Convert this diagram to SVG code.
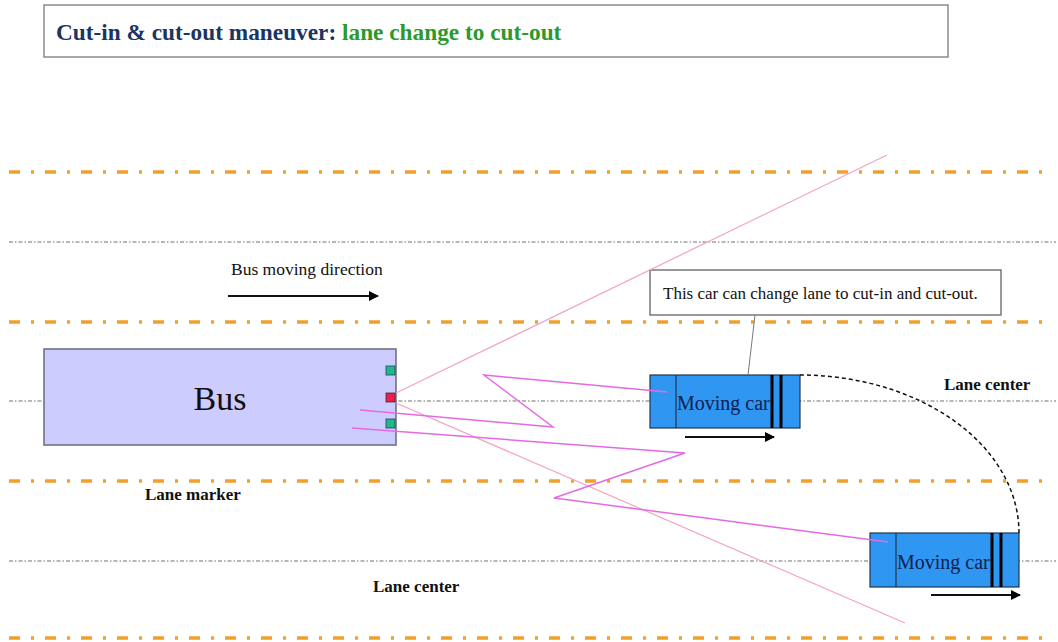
<svg xmlns="http://www.w3.org/2000/svg" width="1058" height="642" viewBox="0 0 1058 642">
  <style>
    .marker-line { stroke: #f2a02a; stroke-width: 3.5; stroke-dasharray: 11 11 3 11; fill: none; }
    .center-line { stroke: #6e6e6e; stroke-width: 1; stroke-dasharray: 4 2 1.5 2; fill: none; }
    .serif { font-family: "Liberation Serif", "Times New Roman", serif; }
    .label { font-family: "Liberation Serif", "Times New Roman", serif; font-weight: bold; font-size: 17px; fill: #111; }
    .car-body { fill: #2f96f2; stroke: #203550; stroke-width: 1.2; }
    .car-text { font-family: "Liberation Serif", "Times New Roman", serif; font-size: 20px; fill: #102050; }
    .bar { stroke: #000; stroke-width: 3; }
    .beam { stroke: #f4a2c4; stroke-width: 1.2; fill: none; }
    .track { stroke: #e46ae4; stroke-width: 1.5; fill: none; }
    .motion { stroke: #111; stroke-width: 1.8; }
    .sensor-g { fill: #1fb88c; stroke: #245; stroke-width: 0.8; }
    .sensor-r { fill: #e8204e; stroke: #523; stroke-width: 0.8; }
  </style>
  <defs>
    <marker id="headBig" viewBox="0 0 10 10" refX="9" refY="5" markerWidth="12" markerHeight="10" markerUnits="userSpaceOnUse" orient="auto">
      <path d="M0,0 L10,5 L0,10 z" fill="#000"/>
    </marker>
  </defs>

  <rect width="1058" height="642" fill="#ffffff"/>

  <!-- title -->
  <g id="title">
    <rect x="44" y="5" width="904" height="52" fill="#fff" stroke="#8a8a8a" stroke-width="1.5"/>
    <text x="56" y="40" class="serif" font-size="23.3" font-weight="bold"><tspan fill="#1b3563">Cut-in &amp; cut-out maneuver: </tspan><tspan fill="#2b9a2b">lane change to cut-out</tspan></text>
  </g>

  <!-- road markings -->
  <g id="road">
    <line class="marker-line" x1="9" y1="172" x2="1052" y2="172"/>
    <line class="marker-line" x1="9" y1="322" x2="1052" y2="322"/>
    <line class="marker-line" x1="9" y1="481" x2="1052" y2="481"/>
    <line class="marker-line" x1="9" y1="638" x2="1052" y2="638"/>
    <line class="center-line" x1="9" y1="242" x2="1056" y2="242"/>
    <line class="center-line" x1="9" y1="401" x2="1056" y2="401"/>
    <line class="center-line" x1="9" y1="561" x2="1056" y2="561"/>
  </g>

  <!-- text labels -->
  <g id="labels">
    <text x="231" y="275" class="serif" font-size="17.5" fill="#111">Bus moving direction</text>
    <text x="944" y="390" class="label">Lane center</text>
    <text x="145" y="500" class="label">Lane marker</text>
    <text x="373" y="592" class="label">Lane center</text>
  </g>

  <!-- bus with sensors -->
  <g id="bus">
    <rect x="44" y="349" width="352" height="96" fill="#ccccff" stroke="#6a6a7a" stroke-width="1.5"/>
    <text x="220" y="410" class="serif" font-size="34" text-anchor="middle" fill="#111">Bus</text>
    <rect class="sensor-g" x="386" y="366" width="9" height="9"/>
    <rect class="sensor-r" x="386" y="393" width="9" height="9"/>
    <rect class="sensor-g" x="386" y="419" width="9" height="9"/>
  </g>

  <!-- moving car in the bus lane -->
  <g id="car1">
    <rect class="car-body" x="650" y="375" width="150" height="53"/>
    <line x1="676" y1="375" x2="676" y2="428" stroke="#203550" stroke-width="1.2"/>
    <text x="677" y="410" class="car-text">Moving car</text>
    <line class="bar" x1="772" y1="375" x2="772" y2="428"/>
    <line class="bar" x1="781" y1="375" x2="781" y2="428"/>
  </g>

  <!-- moving car after the lane change -->
  <g id="car2">
    <rect class="car-body" x="870" y="533" width="149" height="54"/>
    <line x1="896" y1="533" x2="896" y2="587" stroke="#203550" stroke-width="1.2"/>
    <text x="897" y="569" class="car-text">Moving car</text>
    <line class="bar" x1="992" y1="533" x2="992" y2="587"/>
    <line class="bar" x1="1001" y1="533" x2="1001" y2="587"/>
  </g>

  <!-- callout -->
  <g id="callout">
    <rect x="650" y="270" width="351" height="45" fill="#fff" stroke="#555" stroke-width="1.2"/>
    <text x="663" y="299" class="serif" font-size="17" fill="#111">This car can change lane to cut-in and cut-out.</text>
  </g>

  <!-- connectors: sensor beams, tracks, motion arrows, lane-change path -->
  <g id="connectors">
    <line class="beam" x1="396" y1="393" x2="887" y2="155"/>
    <line class="beam" x1="396" y1="403" x2="905" y2="623"/>
    <polyline class="track" points="360,410 553,427 484,375 667,392"/>
    <polyline class="track" points="352,428 685,453 554,498 888,542"/>
    <line x1="755" y1="315" x2="748" y2="375" stroke="#777" stroke-width="1"/>
    <path d="M800,375 A219,158 0 0 1 1019,533" fill="none" stroke="#111" stroke-width="1.5" stroke-dasharray="4 3"/>
    <line class="motion" x1="228" y1="296" x2="378" y2="296" marker-end="url(#headBig)"/>
    <line class="motion" x1="685" y1="437" x2="774" y2="437" marker-end="url(#headBig)"/>
    <line class="motion" x1="931" y1="595" x2="1020" y2="595" marker-end="url(#headBig)"/>
  </g>
</svg>
